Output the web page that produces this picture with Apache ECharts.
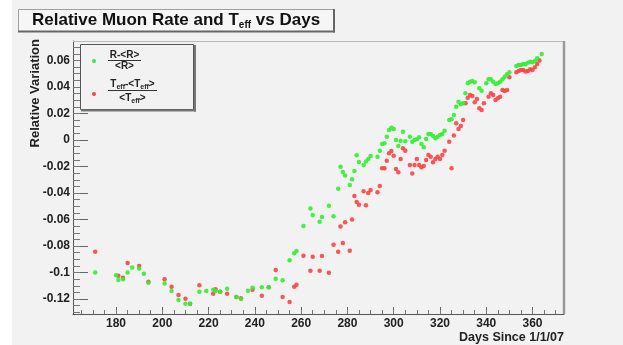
<!DOCTYPE html>
<html>
<head>
<meta charset="utf-8">
<script src="https://cdn.jsdelivr.net/npm/echarts@6/dist/echarts.min.js"></script>
<style>
html,body{margin:0;padding:0;background:#ffffff;}
#c{width:623px;height:345px;}
</style>
</head>
<body>
<div id="c"></div>
<script>
// ---- data ----
const rateDays = [171,180,181,183,185,187,190,192,194,201,204,207,210,212,216,219,222,223,225,228,232,234,237,239,243,246,249,252,255,257,258,261,264,265,268,269,272,274,276,277,278,279,281,282,283,284,285,287,288,289,290,293,294,295,296,297,298,299,300,301,302,303,304,305,307,308,309,310,311,312,313,314,315,316,317,318,319,320,321,322,324,325,326,327,328,329,330,331,332,333,334,335,337,338,340,341,342,343,344,345,346,347,348,349,350,353,354,355,356,357,358,359,360,361,362,364];
const rateVals = [-0.100,-0.102,-0.1057,-0.105,-0.0999,-0.0963,-0.0969,-0.1009,-0.1077,-0.1082,-0.114,-0.1208,-0.1235,-0.1235,-0.1145,-0.114,-0.113,-0.114,-0.1145,-0.1122,-0.1185,-0.120,-0.1137,-0.1115,-0.1112,-0.1112,-0.1047,-0.1059,-0.0908,-0.0855,-0.0838,-0.0649,-0.0516,-0.0566,-0.0616,-0.0581,-0.0496,-0.0576,-0.0367,-0.0201,-0.0242,-0.0267,-0.034,-0.0297,-0.0234,-0.0116,-0.0166,-0.0189,-0.0163,-0.0143,-0.0121,-0.0126,-0.0081,-0.003,-0.0025,0.0025,0.0075,0.0093,0.0083,0.0,-0.0045,-0.0005,0.0063,-0.001,0.0025,-0.0013,0.0,0.0005,0.002,-0.003,-0.0055,0.0008,0.0045,0.0045,0.003,0.0013,0.0025,0.0038,0.0045,0.007,0.0151,0.0156,0.0189,0.0251,0.0289,0.0269,0.0277,0.0352,0.0428,0.044,0.0445,0.0435,0.039,0.0372,0.0428,0.0458,0.0458,0.044,0.0423,0.0428,0.044,0.0458,0.0478,0.0496,0.0511,0.0558,0.0566,0.0566,0.0574,0.0571,0.0583,0.0591,0.0586,0.0596,0.0617,0.0649];
const teffDays = [171,181,183,185,190,194,201,204,207,210,212,216,222,223,225,228,232,234,239,243,246,249,252,255,257,258,261,264,265,268,269,272,274,276,277,278,279,281,282,283,284,285,287,288,289,290,293,294,295,296,297,298,299,300,301,302,303,304,305,307,308,309,310,311,312,313,314,315,316,317,318,319,320,321,322,324,325,326,327,328,329,330,331,332,333,334,335,336,337,338,339,341,342,343,344,345,346,347,348,349,350,353,354,355,356,357,358,359,360,361,362,363];
const teffVals = [-0.0843,-0.1024,-0.104,-0.0928,-0.0951,-0.107,-0.105,-0.1107,-0.117,-0.1197,-0.1235,-0.1097,-0.116,-0.1127,-0.1145,-0.116,-0.1185,-0.1195,-0.113,-0.1175,-0.1112,-0.0981,-0.1185,-0.1223,-0.1107,-0.1092,-0.0873,-0.0986,-0.0881,-0.0986,-0.0875,-0.1001,-0.079,-0.0843,-0.0652,-0.0777,-0.0621,-0.0835,-0.0599,-0.0423,-0.0468,-0.0488,-0.0387,-0.0493,-0.04,-0.0377,-0.0395,-0.0347,-0.0214,-0.0214,-0.0156,-0.01,-0.0083,-0.0118,-0.0219,-0.0244,-0.0143,-0.0063,-0.0081,-0.0189,-0.0252,-0.0189,-0.0143,-0.0189,-0.0206,-0.0196,-0.0151,-0.0113,-0.0126,-0.0168,-0.0143,-0.0126,-0.0143,-0.0113,-0.0081,-0.0013,-0.0214,0.0033,0.0126,0.0083,0.0106,0.0151,0.0277,0.0319,0.034,0.0332,0.0284,0.0309,0.0239,0.0226,0.0277,0.0327,0.0352,0.034,0.0302,0.0315,0.0327,0.0377,0.037,0.0377,0.0473,0.0511,0.0521,0.0528,0.0528,0.0516,0.0521,0.0533,0.0528,0.0549,0.0574,0.0599];
const xTickLabels = [180,200,220,240,260,280,300,320,340,360];
const yTickLabels = [-0.12,-0.1,-0.08,-0.06,-0.04,-0.02,0,0.02,0.04,0.06];
const xMinorTicks = [165,170,175,180,185,190,195,200,205,210,215,220,225,230,235,240,245,250,255,260,265,270,275,280,285,290,295,300,305,310,315,320,325,330,335,340,345,350,355,360,365,370];
const yMinorTicks = [-0.13,-0.125,-0.12,-0.115,-0.11,-0.105,-0.1,-0.095,-0.09,-0.085,-0.08,-0.075,-0.07,-0.065,-0.06,-0.055,-0.05,-0.045,-0.04,-0.035,-0.03,-0.025,-0.02,-0.015,-0.01,-0.005,0,0.005,0.01,0.015,0.02,0.025,0.03,0.035,0.04,0.045,0.05,0.055,0.06,0.065,0.07];

const rateData = rateDays.map((d,i)=>[d, rateVals[i]]);
const teffData = teffDays.map((d,i)=>[d, teffVals[i]]);

const FONT = '"Liberation Sans", Arial, Helvetica, sans-serif';
const mctx = document.createElement('canvas').getContext('2d');
function tw(text, size){ mctx.font = 'bold ' + size + 'px ' + FONT; return mctx.measureText(text).width; }

const chart = echarts.init(document.getElementById('c'), null, {renderer:'canvas'});

// title pieces
const tSize = 17, sSize = 10;
const t1 = 'Relative Muon Rate and T', t2 = 'eff', t3 = ' vs Days';
const tx0 = 32;
const tx1 = tx0 + tw(t1, tSize);
const tx2 = tx1 + tw(t2, sSize);

// legend fraction pieces
const lf = 10, lsub = 7;
function fracPieces(cx, y, parts){
  // parts: array of [text, isSub]
  let total = 0;
  parts.forEach(p=>{ total += tw(p[0], p[1]? lsub : lf); });
  let x = cx - total/2;
  const out = [];
  parts.forEach(p=>{
    out.push({type:'text', x:x, y: p[1]? y+3 : y, style:{text:p[0], font:'bold '+(p[1]?lsub:lf)+'px '+FONT, fill:'#222', textVerticalAlign:'middle'}});
    x += tw(p[0], p[1]? lsub : lf);
  });
  return out;
}

const graphics = [
  {type:'rect', z:-10, silent:true, shape:{x:12,y:0,width:611,height:345}, style:{fill:'#f2f2f2'}},
  // frame top/right borders
  {type:'line', z:5, shape:{x1:73,y1:41.5,x2:564,y2:41.5}, style:{stroke:'#b8b8b8', lineWidth:1}},
  {type:'line', z:5, shape:{x1:564,y1:41,x2:564,y2:314}, style:{stroke:'#9a9a9a', lineWidth:2.5}},
  // title box
  {type:'rect', z:5, shape:{x:18.5,y:9.5,width:315,height:22}, style:{fill:'#f6f6f6', stroke:'#a0a0a0', lineWidth:1}},
  {type:'line', z:6, shape:{x1:18,y1:31.5,x2:335,y2:31.5}, style:{stroke:'#666', lineWidth:2}},
  {type:'line', z:6, shape:{x1:334,y1:9,x2:334,y2:32.5}, style:{stroke:'#666', lineWidth:2}},
  {type:'text', z:7, x:tx0, y:20.5, style:{text:t1, font:'bold '+tSize+'px '+FONT, fill:'#111', textVerticalAlign:'middle'}},
  {type:'text', z:7, x:tx1, y:25.5, style:{text:t2, font:'bold '+sSize+'px '+FONT, fill:'#111', textVerticalAlign:'middle'}},
  {type:'text', z:7, x:tx2, y:20.5, style:{text:t3, font:'bold '+tSize+'px '+FONT, fill:'#111', textVerticalAlign:'middle'}},
  // axis titles
  {type:'text', z:7, x:35, y:39, rotation:Math.PI/2, style:{text:'Relative Variation', font:'bold 13px '+FONT, fill:'#222', textAlign:'right', textVerticalAlign:'middle'}},
  {type:'text', z:7, x:564, y:338, style:{text:'Days Since 1/1/07', font:'bold 12.5px '+FONT, fill:'#222', textAlign:'right', textVerticalAlign:'middle'}},
  // legend box
  {type:'rect', z:8, shape:{x:80.5,y:44.5,width:113,height:65}, style:{fill:'#f2f2f2', stroke:'#555', lineWidth:1}},
  {type:'line', z:8, shape:{x1:81,y1:110.5,x2:196,y2:110.5}, style:{stroke:'#777', lineWidth:2}},
  {type:'line', z:8, shape:{x1:195,y1:45,x2:195,y2:111.5}, style:{stroke:'#777', lineWidth:2}},
  {type:'circle', z:9, shape:{cx:94,cy:61,r:2}, style:{fill:'#33ee33'}},
  {type:'circle', z:9, shape:{cx:94,cy:94,r:2}, style:{fill:'#ff4444'}},
  {type:'line', z:9, shape:{x1:108,y1:60.5,x2:141,y2:60.5}, style:{stroke:'#333', lineWidth:1}},
  {type:'line', z:9, shape:{x1:108,y1:90.5,x2:157,y2:90.5}, style:{stroke:'#333', lineWidth:1}}
].concat(
  fracPieces(124.5, 55.5, [['R-<R>',false]]).map(g=>Object.assign(g,{z:9})),
  fracPieces(124.5, 66, [['<R>',false]]).map(g=>Object.assign(g,{z:9})),
  fracPieces(132.5, 84.5, [['T',false],['eff',true],['-<T',false],['eff',true],['>',false]]).map(g=>Object.assign(g,{z:9})),
  fracPieces(132.5, 98.5, [['<T',false],['eff',true],['>',false]]).map(g=>Object.assign(g,{z:9}))
);

const labelStyle = {fontFamily:FONT, fontWeight:'bold', fontSize:12, color:'#222'};

const option = {
  backgroundColor:'transparent',
  animation:false,
  grid:{left:73, right:59, top:41, bottom:31, containLabel:false},
  xAxis:[
    {type:'value', min:161.4, max:373.6, position:'bottom',
     axisLine:{show:true, onZero:false, lineStyle:{color:'#555', width:1}},
     axisTick:{show:true, inside:true, length:7, customValues:xTickLabels, lineStyle:{color:'#666'}},
     axisLabel:{show:true, margin:4, customValues:xTickLabels, ...labelStyle},
     splitLine:{show:false}},
    {type:'value', min:161.4, max:373.6, position:'bottom', gridIndex:0,
     axisLine:{show:false, onZero:false},
     axisTick:{show:true, inside:true, length:4, customValues:xMinorTicks, lineStyle:{color:'#777'}},
     axisLabel:{show:false},
     splitLine:{show:false}}
  ],
  yAxis:[
    {type:'value', min:-0.1313, max:0.0747, position:'left',
     axisLine:{show:true, onZero:false, lineStyle:{color:'#555', width:1}},
     axisTick:{show:true, inside:true, length:15, customValues:yTickLabels, lineStyle:{color:'#666'}},
     axisLabel:{show:true, margin:3, customValues:yTickLabels, formatter:(v)=>String(+Number(v).toFixed(2)), ...labelStyle},
     splitLine:{show:false}},
    {type:'value', min:-0.1313, max:0.0747, position:'left',
     axisLine:{show:false, onZero:false},
     axisTick:{show:true, inside:true, length:7, customValues:yMinorTicks, lineStyle:{color:'#777'}},
     axisLabel:{show:false},
     splitLine:{show:false}}
  ],
  series:[
    {name:'T', type:'scatter', xAxisIndex:0, yAxisIndex:0, data:teffData, symbol:'circle', symbolSize:4.5,
     itemStyle:{color:'#ff4444', opacity:0.9}, z:3},
    {name:'R', type:'scatter', xAxisIndex:0, yAxisIndex:0, data:rateData, symbol:'circle', symbolSize:4.5,
     itemStyle:{color:'#33ee33', opacity:0.9}, z:4}
  ],
  graphic:graphics
};
chart.setOption(option);
</script>
</body>
</html>
